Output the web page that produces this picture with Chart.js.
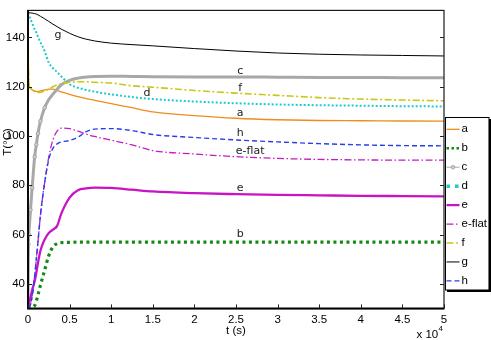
<!DOCTYPE html>
<html><head><meta charset="utf-8">
<script src="https://cdn.jsdelivr.net/npm/chart.js@4/dist/chart.umd.min.js"></script>
<style>html,body{margin:0;padding:0;background:#fff;overflow:hidden}</style>
</head><body>
<canvas id="c" width="491" height="340"></canvas>
<script>
// time in units of 1e4 s
const timeE4 = [0,0.005,0.01,0.03,0.05,0.08,0.1,0.12,0.15,0.2,0.25,0.3,0.35,0.4,0.5,0.6,0.7,0.8,1.0,1.25,1.5,2.0,2.5,3.0,3.5,4.0,4.5,5.0];
const seriesNames = ['a','b','c','d','e','e-flat','f','g','h'];
const tempA = [150,128,121.5,119.4,118.8,118.3,118.1,118.1,118.3,118.7,119,119,118.5,117.9,116.9,116,115.2,114.5,113.1,111.5,109.8,108.3,107.2,106.6,106.3,106.2,106.1,106];
const tempB = [30,30,30,30,30.3,31.2,33,35.5,39.5,45.5,51.5,55,56.3,56.7,56.8,56.9,56.9,56.9,56.9,56.9,56.9,56.9,56.9,56.9,56.9,56.9,56.9,56.9];
const tempC = [30,56,60,70,79,91.5,96.5,101,106,111.5,114.8,117,119,120.8,122.6,123.5,124,124.2,124.3,124.2,124.1,124,124,123.9,123.8,123.8,123.7,123.7];
const tempD = [150,149.5,149,147.5,145.8,143.3,142,140.3,138,134.5,129.8,127.5,126,124.2,121,119.6,118.7,118,116.9,115.8,115,114,113.3,112.8,112.5,112.3,112.1,112];
const tempE = [30,30.5,31.5,34.5,37.5,41,44.5,48.5,53.5,58,60.6,62,63.5,68.5,75,78,78.7,79,78.9,78.2,77.5,76.8,76.4,76.1,75.9,75.7,75.6,75.5];
const tempEFlat = [30,30.2,30.5,31.5,35,43,50,57,68,81,91.5,98.5,102,103.2,103,102,100.8,99.8,98.3,96.4,94.1,92.7,91.6,90.9,90.5,90.3,90.2,90.2];
const tempF = [150,128,121.5,119.2,118.6,118,117.8,117.7,117.8,118.3,119,120,120.8,121.2,121.8,122,122,121.8,121.5,120.4,119.8,118.5,117.4,116.5,115.6,115,114.6,114.3];
const tempG = [150,150,150,150,149.9,149.7,149.5,149.2,148.6,147.6,146.5,145.4,144.4,143.4,141.7,140.3,139.3,138.6,137.7,137.1,136.6,135.5,134.5,133.7,133.2,132.9,132.7,132.5];
const tempH = [30,30.2,30.5,31.5,35,43,50,57,68,81,90.5,95,96.8,97.6,98.2,99.5,101.8,102.8,103,102.2,100.6,99.4,98.4,97.6,96.9,96.4,96.1,96];
const seriesValues = [tempA,tempB,tempC,tempD,tempE,tempEFlat,tempF,tempG,tempH];

const xTickLabels = ['0','0.5','1','1.5','2','2.5','3','3.5','4','4.5','5'];
const yTickValues = [40,60,80,100,120,140];

// inline curve labels (anchors in data space)
const inlineNames = ['g','c','f','d','a','h','e-flat','e','b'];
const inlineT = [0.36,2.55,2.55,1.43,2.55,2.55,2.67,2.55,2.55];
const inlineTemp = [140.9,126.3,119.4,117.3,109.3,101.1,93.9,78.8,60.0];

const styles = {
  'a':      {color:'#ef8c1e', width:1.3, dash:[]},
  'b':      {color:'#138a13', width:3.2, dash:[3,3.5]},
  'c':      {color:'#a8a8a8', width:3.2, dash:[]},
  'd':      {color:'#22c8cc', width:2,   dash:[2,2]},
  'e':      {color:'#c814c4', width:2.3, dash:[]},
  'e-flat': {color:'#c41cc0', width:1.3, dash:[7,2.5,1.5,2.5]},
  'f':      {color:'#c8c81a', width:1.6, dash:[7,2.5,2,2.5]},
  'g':      {color:'#000000', width:1,   dash:[]},
  'h':      {color:'#2a3cf0', width:1.4, dash:[5,3]}
};

const datasets = seriesNames.map((n,i)=>{
  const st = styles[n];
  const ds = {
    label:n,
    data: timeE4.map((t,k)=>({x:t,y:seriesValues[i][k]})),
    borderColor: st.color, backgroundColor: st.color,
    borderWidth: st.width, borderDash: st.dash,
    pointRadius: 0, fill:false, cubicInterpolationMode:'monotone',
    order: seriesNames.length - i
  };
  if (n==='c') {
    ds.borderWidth = 3;
    ds.pointRadius = ctx => (timeE4[ctx.dataIndex] > 0 && timeE4[ctx.dataIndex] <= 0.2) ? 1.8 : 0;
    ds.pointBackgroundColor = '#d0d0d0';
    ds.pointBorderColor = '#999';
    ds.pointBorderWidth = 0.8;
  }
  return ds;
});

const FONT = 'Liberation Sans, Arial, sans-serif';

const decor = {
  id:'decor',
  afterDatasetsDraw(chart){
    const ctx = chart.ctx, a = chart.chartArea;
    const xs = chart.scales.x, ys = chart.scales.y;
    ctx.save();
    // inline labels
    ctx.fillStyle = '#222';
    ctx.font = '11px "DejaVu Sans", sans-serif';
    ctx.textAlign = 'center'; ctx.textBaseline = 'middle';
    inlineNames.forEach((n,i)=>{
      ctx.fillText(n, xs.getPixelForValue(inlineT[i]), ys.getPixelForValue(inlineTemp[i]));
    });
    // frame
    ctx.strokeStyle = '#1a1a1a'; ctx.lineWidth = 1.2;
    ctx.strokeRect(a.left, a.top+0.5, a.right-a.left, a.bottom-a.top);
    ctx.strokeStyle = '#000'; ctx.lineWidth = 1.8;
    ctx.beginPath();
    ctx.moveTo(a.left, a.top); ctx.lineTo(a.left, a.bottom); ctx.lineTo(a.right, a.bottom);
    ctx.stroke();
    // ticks (inward)
    ctx.lineWidth = 1; ctx.strokeStyle = '#222';
    ctx.beginPath();
    yTickValues.forEach(v=>{
      const y = Math.round(ys.getPixelForValue(v))+0.5;
      ctx.moveTo(a.left, y); ctx.lineTo(a.left+4, y);
      ctx.moveTo(a.right, y); ctx.lineTo(a.right-4, y);
    });
    xTickLabels.forEach(l=>{
      const x = Math.round(xs.getPixelForValue(parseFloat(l)))+0.5;
      ctx.moveTo(x, a.bottom); ctx.lineTo(x, a.bottom-4);
    });
    ctx.stroke();
    ctx.restore();
  },
  afterDraw(chart){
    const ctx = chart.ctx;
    ctx.save();
    ctx.fillStyle = '#000';
    ctx.font = '11.5px ' + FONT;
    // axis titles
    ctx.textAlign='center'; ctx.textBaseline='middle';
    ctx.fillText('t (s)', 236, 330.5);
    ctx.save();
    ctx.translate(8, 142); ctx.rotate(-Math.PI/2);
    ctx.fillText('T(\u00B0C)', 0, 0);
    ctx.restore();
    // exponent
    ctx.textAlign='left';
    ctx.fillText('x 10', 416.5, 334.5);
    ctx.font = '8px ' + FONT;
    ctx.fillText('4', 438.5, 329);
    // legend
    const L=445.5, T=117.5, W=43.5, H=172.5;
    ctx.fillStyle='#fff'; ctx.fillRect(L,T,W,H);
    ctx.strokeStyle='#000'; ctx.lineWidth=1; ctx.strokeRect(L,T,W,H);
    ctx.lineWidth=2.2;
    ctx.beginPath();
    ctx.moveTo(L+W+1, T+1.5); ctx.lineTo(L+W+1, T+H+1); ctx.lineTo(L+1.5, T+H+1);
    ctx.stroke();
    ctx.font = '11.5px ' + FONT;
    ctx.textBaseline='middle';
    seriesNames.forEach((n,i)=>{
      const st = styles[n];
      const y = 129.3 + i*18.95;
      ctx.save();
      ctx.strokeStyle = st.color;
      let w = st.width, dash = st.dash;
      if (n==='c') { w = 1; }
      if (n==='d') { w = 3.5; dash=[3.5,5]; }
      if (n==='b') { w = 2.5; dash=[2.5,2.5]; }
      ctx.lineWidth = w; ctx.setLineDash(dash);
      ctx.beginPath(); ctx.moveTo(446.5, y); ctx.lineTo(459.5, y); ctx.stroke();
      if (n==='c') {
        ctx.setLineDash([]);
        ctx.fillStyle='#d0d0d0'; ctx.strokeStyle='#999'; ctx.lineWidth=0.8;
        ctx.beginPath(); ctx.arc(453, y, 1.8, 0, Math.PI*2); ctx.fill(); ctx.stroke();
      }
      ctx.restore();
      ctx.fillStyle='#000'; ctx.textAlign='left';
      ctx.fillText(n, 461.5, y);
    });
    ctx.restore();
  }
};

new Chart(document.getElementById('c'), {
  type:'line',
  data:{datasets},
  options:{
    responsive:false, animation:false, devicePixelRatio:1,
    layout:{padding:{left:0,right:47,top:4,bottom:0}},
    plugins:{legend:{display:false}, tooltip:{enabled:false}},
    scales:{
      x:{
        type:'linear', min:0, max:5,
        afterBuildTicks: s => { s.ticks = xTickLabels.map(l=>({value:parseFloat(l)})); },
        ticks:{ callback:(v,i)=>xTickLabels[i], font:{family:FONT, size:11.5}, color:'#000', padding:5, maxRotation:0, autoSkip:false },
        grid:{display:false, drawTicks:false}, border:{display:false},
        afterFit: s => { s.height = 31.6; }
      },
      y:{
        type:'linear', min:30, max:151.2,
        afterBuildTicks: s => { s.ticks = yTickValues.map(v=>({value:v})); },
        ticks:{ font:{family:FONT, size:11.5}, color:'#000', padding:3, autoSkip:false },
        grid:{display:false, drawTicks:false}, border:{display:false},
        afterFit: s => { s.width = 28; }
      }
    }
  },
  plugins:[decor]
});
</script>
</body></html>
